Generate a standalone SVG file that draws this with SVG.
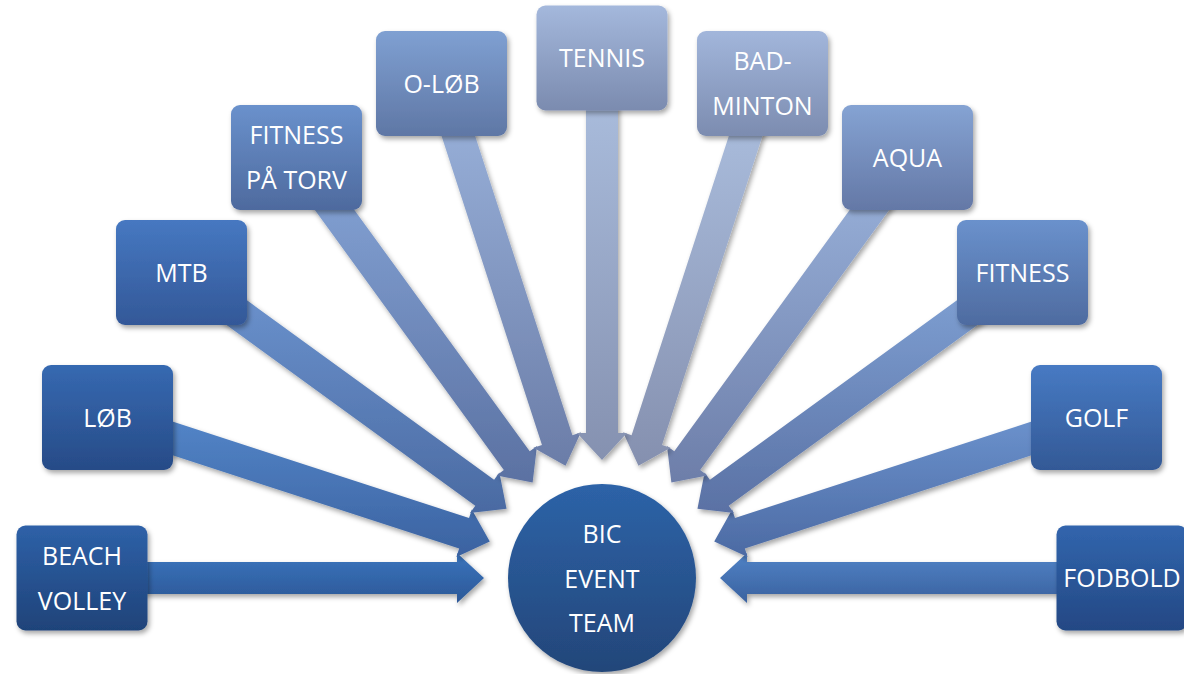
<svg xmlns="http://www.w3.org/2000/svg" width="1184" height="674" viewBox="0 0 1184 674">
<defs>
<filter id="sh" x="-20%" y="-20%" width="140%" height="140%">
<feDropShadow dx="2" dy="3" stdDeviation="2.5" flood-color="#000" flood-opacity="0.35"/>
</filter>
<linearGradient id="a0" x1="0" y1="0" x2="0" y2="1"><stop offset="0" stop-color="#3a74bd"/><stop offset="1" stop-color="#2c5897"/></linearGradient>
<linearGradient id="a1" x1="0" y1="0" x2="0" y2="1"><stop offset="0" stop-color="#5385c8"/><stop offset="1" stop-color="#3b62a0"/></linearGradient>
<linearGradient id="a2" x1="0" y1="0" x2="0" y2="1"><stop offset="0" stop-color="#6a91cc"/><stop offset="1" stop-color="#4a6aa2"/></linearGradient>
<linearGradient id="a3" x1="0" y1="0" x2="0" y2="1"><stop offset="0" stop-color="#82a1d3"/><stop offset="1" stop-color="#5b71a2"/></linearGradient>
<linearGradient id="a4" x1="0" y1="0" x2="0" y2="1"><stop offset="0" stop-color="#98b0d9"/><stop offset="1" stop-color="#6b7da8"/></linearGradient>
<linearGradient id="a5" x1="0" y1="0" x2="0" y2="1"><stop offset="0" stop-color="#aabddd"/><stop offset="1" stop-color="#8591b0"/></linearGradient>
<linearGradient id="a6" x1="0" y1="0" x2="0" y2="1"><stop offset="0" stop-color="#aabddd"/><stop offset="1" stop-color="#8590af"/></linearGradient>
<linearGradient id="a7" x1="0" y1="0" x2="0" y2="1"><stop offset="0" stop-color="#97afd8"/><stop offset="1" stop-color="#6d7ea9"/></linearGradient>
<linearGradient id="a8" x1="0" y1="0" x2="0" y2="1"><stop offset="0" stop-color="#7d9ed1"/><stop offset="1" stop-color="#5a71a4"/></linearGradient>
<linearGradient id="a9" x1="0" y1="0" x2="0" y2="1"><stop offset="0" stop-color="#6b92cd"/><stop offset="1" stop-color="#4c6aa3"/></linearGradient>
<linearGradient id="a10" x1="0" y1="0" x2="0" y2="1"><stop offset="0" stop-color="#5082c6"/><stop offset="1" stop-color="#3a629f"/></linearGradient>
<linearGradient id="b0" x1="0" y1="0" x2="0" y2="1"><stop offset="0" stop-color="#2e61a8"/><stop offset="1" stop-color="#1f4379"/></linearGradient>
<linearGradient id="b1" x1="0" y1="0" x2="0" y2="1"><stop offset="0" stop-color="#3669b1"/><stop offset="1" stop-color="#274b87"/></linearGradient>
<linearGradient id="b2" x1="0" y1="0" x2="0" y2="1"><stop offset="0" stop-color="#4678c1"/><stop offset="1" stop-color="#335898"/></linearGradient>
<linearGradient id="b3" x1="0" y1="0" x2="0" y2="1"><stop offset="0" stop-color="#6a91cc"/><stop offset="1" stop-color="#4e6a9e"/></linearGradient>
<linearGradient id="b4" x1="0" y1="0" x2="0" y2="1"><stop offset="0" stop-color="#7fa0d2"/><stop offset="1" stop-color="#5f77a5"/></linearGradient>
<linearGradient id="b5" x1="0" y1="0" x2="0" y2="1"><stop offset="0" stop-color="#a4b8dc"/><stop offset="1" stop-color="#7b8baf"/></linearGradient>
<linearGradient id="b6" x1="0" y1="0" x2="0" y2="1"><stop offset="0" stop-color="#a2b6db"/><stop offset="1" stop-color="#7c8cb0"/></linearGradient>
<linearGradient id="b7" x1="0" y1="0" x2="0" y2="1"><stop offset="0" stop-color="#85a3d3"/><stop offset="1" stop-color="#6478a6"/></linearGradient>
<linearGradient id="b8" x1="0" y1="0" x2="0" y2="1"><stop offset="0" stop-color="#6a91cc"/><stop offset="1" stop-color="#4e6ba0"/></linearGradient>
<linearGradient id="b9" x1="0" y1="0" x2="0" y2="1"><stop offset="0" stop-color="#477ac3"/><stop offset="1" stop-color="#335996"/></linearGradient>
<linearGradient id="b10" x1="0" y1="0" x2="0" y2="1"><stop offset="0" stop-color="#3165ad"/><stop offset="1" stop-color="#244884"/></linearGradient>
<linearGradient id="bc" x1="0" y1="0" x2="0" y2="1"><stop offset="0" stop-color="#2d63a8"/><stop offset="1" stop-color="#234679"/></linearGradient>
</defs>
<style>
.arr{filter:url(#sh);}
.box{filter:url(#sh);}
.lbl{font-family:"Open Sans","Noto Sans","Liberation Sans",sans-serif;font-size:25px;fill:#ffffff;text-anchor:middle;}
</style>
<rect x="0" y="0" width="1184" height="674" fill="#ffffff"/>
<g id="connectors">
<path class="arr" fill="url(#a0)" d="M126,562 L457,562 L457,553 L484,578 L457,603 L457,594 L126,594 Z"/>
<path class="arr" fill="url(#a1)" d="M157.09,416.61 L469.04,517.97 L471.83,509.41 L489.77,541.54 L456.37,556.97 L459.16,548.41 L147.21,447.05 Z"/>
<path class="arr" fill="url(#a2)" d="M238.44,294.09 L494.09,479.83 L499.38,472.54 L506.54,508.64 L470,513 L475.29,505.71 L219.64,319.97 Z"/>
<path class="arr" fill="url(#a3)" d="M334.56,182.7 L529.71,451.29 L537,446 L532.64,482.54 L496.54,475.38 L503.83,470.09 L308.68,201.5 Z"/>
<path class="arr" fill="url(#a4)" d="M466.73,109.89 L572.41,435.16 L580.97,432.37 L565.54,465.77 L533.41,447.83 L541.97,445.04 L436.29,119.77 Z"/>
<path class="arr" fill="url(#a10)" d="M1078,562 L747,562 L747,553 L720,578 L747,603 L747,594 L1078,594 Z"/>
<path class="arr" fill="url(#a9)" d="M1046.91,416.61 L734.96,517.97 L732.17,509.41 L714.23,541.54 L747.63,556.97 L744.84,548.41 L1056.79,447.05 Z"/>
<path class="arr" fill="url(#a8)" d="M965.56,294.09 L709.91,479.83 L704.62,472.54 L697.46,508.64 L734,513 L728.71,505.71 L984.36,319.97 Z"/>
<path class="arr" fill="url(#a7)" d="M869.44,182.7 L674.29,451.29 L667,446 L671.36,482.54 L707.46,475.38 L700.17,470.09 L895.32,201.5 Z"/>
<path class="arr" fill="url(#a6)" d="M737.27,109.89 L631.59,435.16 L623.03,432.37 L638.46,465.77 L670.59,447.83 L662.03,445.04 L767.71,119.77 Z"/>
<path class="arr" fill="url(#a5)" d="M618,88 L618,433 L627,433 L602,460 L577,433 L586,433 L586,88 Z"/>
</g>
<g id="node-beach-volley">
<rect class="box" x="16.5" y="525.5" width="131" height="105" rx="9" fill="url(#b0)"/>
<text class="lbl" x="82" y="565">BEACH</text>
<text class="lbl" x="82" y="610">VOLLEY</text>
</g>
<g id="node-lob">
<rect class="box" x="42" y="365" width="131" height="105" rx="9" fill="url(#b1)"/>
<text class="lbl" x="107.5" y="426.5">LØB</text>
</g>
<g id="node-mtb">
<rect class="box" x="116" y="220" width="131" height="105" rx="9" fill="url(#b2)"/>
<text class="lbl" x="181.5" y="281.5">MTB</text>
</g>
<g id="node-fitness-paa-torv">
<rect class="box" x="231" y="105" width="131" height="105" rx="9" fill="url(#b3)"/>
<text class="lbl" x="296.5" y="144">FITNESS</text>
<text class="lbl" x="296.5" y="189">PÅ TORV</text>
</g>
<g id="node-o-lob">
<rect class="box" x="376" y="31" width="131" height="105" rx="9" fill="url(#b4)"/>
<text class="lbl" x="441.5" y="92.5">O-LØB</text>
</g>
<g id="node-tennis">
<rect class="box" x="536.5" y="5.5" width="131" height="105" rx="9" fill="url(#b5)"/>
<text class="lbl" x="602" y="67">TENNIS</text>
</g>
<g id="node-badminton">
<rect class="box" x="697" y="31" width="131" height="105" rx="9" fill="url(#b6)"/>
<text class="lbl" x="762.5" y="70">BAD-</text>
<text class="lbl" x="762.5" y="115">MINTON</text>
</g>
<g id="node-aqua">
<rect class="box" x="842" y="105" width="131" height="105" rx="9" fill="url(#b7)"/>
<text class="lbl" x="907.5" y="166.5">AQUA</text>
</g>
<g id="node-fitness">
<rect class="box" x="957" y="220" width="131" height="105" rx="9" fill="url(#b8)"/>
<text class="lbl" x="1022.5" y="281.5">FITNESS</text>
</g>
<g id="node-golf">
<rect class="box" x="1031" y="365" width="131" height="105" rx="9" fill="url(#b9)"/>
<text class="lbl" x="1096.5" y="426.5">GOLF</text>
</g>
<g id="node-fodbold">
<rect class="box" x="1056.5" y="525.5" width="131" height="105" rx="9" fill="url(#b10)"/>
<text class="lbl" x="1122" y="587">FODBOLD</text>
</g>
<g id="node-bic-event-team">
<circle class="box" cx="602" cy="578" r="94" fill="url(#bc)"/>
<text class="lbl" x="602" y="543">BIC</text>
<text class="lbl" x="602" y="587.5">EVENT</text>
<text class="lbl" x="602" y="632">TEAM</text>
</g>
</svg>
